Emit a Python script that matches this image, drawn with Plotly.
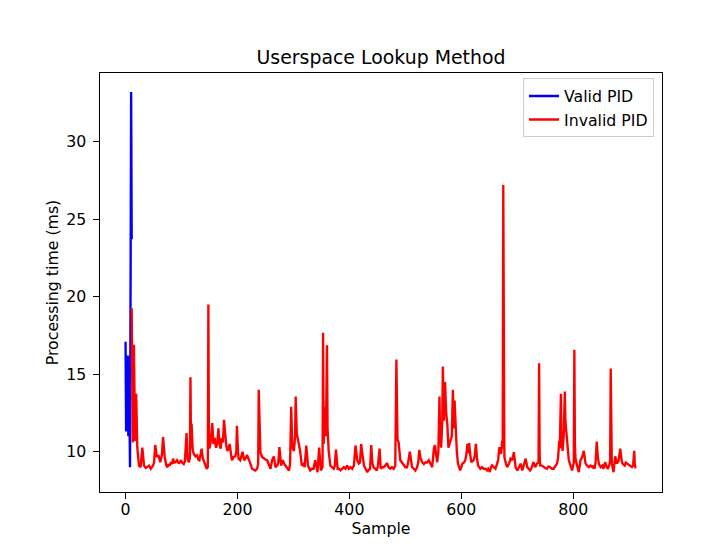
import plotly.graph_objects as go

# ---- data ----
blue_x = [0, 1, 2, 3, 4, 5, 6, 7, 8, 10, 11]
blue_y = [17.1, 11.3, 16.1, 11.4, 16.2, 11.0, 16.1, 10.7, 9.0, 33.2, 23.7]

red_x = [
    11, 13, 15, 17, 19, 21, 24, 27, 30, 33, 36, 39, 42, 45, 47,
    49, 51, 53, 56, 59, 62, 65, 67, 70, 73, 75, 77, 79, 81, 83,
    85, 87, 89, 92, 94, 96, 99, 101, 104, 106, 109, 111, 113, 115, 116,
    117, 118, 120, 122, 125, 128, 130, 132, 134, 136, 138, 141, 143, 145, 147,
    148, 149, 150, 152, 155, 157, 159, 161, 162, 164, 166, 168, 170, 172, 174,
    176, 178, 180, 182, 184, 186, 188, 190, 193, 196, 198, 199, 201, 202, 205,
    207, 209, 212, 215, 217, 220, 223, 226, 229, 232, 235, 237, 238, 240, 241,
    244, 247, 250, 253, 256, 259, 262, 265, 268, 271, 273, 275, 278, 281, 284,
    286, 289, 292, 294, 296, 298, 301, 303, 304, 306, 309, 312, 315, 318, 320,
    323, 326, 328, 330, 333, 336, 339, 341, 343, 346, 349, 352, 353, 354, 356,
    358, 360, 361, 363, 366, 369, 372, 374, 376, 379, 381, 384, 387, 390, 393,
    396, 399, 402, 405, 408, 411, 414, 417, 419, 421, 424, 426, 429, 432, 435,
    437, 439, 441, 443, 446, 449, 451, 454, 456, 459, 461, 464, 467, 470, 473,
    476, 479, 482, 484, 486, 488, 491, 494, 497, 500, 503, 505, 508, 510, 512,
    515, 518, 521, 523, 525, 527, 530, 533, 536, 539, 542, 545, 548, 551, 553,
    555, 557, 559, 561, 562, 564, 566, 567, 569, 571, 573, 575, 577, 579, 581,
    583, 585, 587, 588, 590, 592, 594, 596, 598, 600, 602, 605, 607, 609, 611,
    613, 614, 616, 618, 620, 622, 624, 626, 628, 630, 632, 634, 637, 640, 643,
    646, 648, 651, 653, 655, 658, 661, 664, 666, 668, 670, 671, 673, 674, 675,
    676, 677, 680, 682, 685, 688, 691, 694, 697, 700, 703, 706, 709, 712, 715,
    718, 721, 723, 726, 729, 732, 735, 738, 739, 740, 741, 744, 747, 750, 753,
    756, 759, 762, 765, 768, 771, 773, 775, 776, 778, 779, 781, 783, 785, 786,
    788, 790, 792, 794, 796, 798, 801, 802, 803, 804, 806, 808, 810, 813, 816,
    819, 822, 825, 828, 831, 834, 836, 838, 840, 842, 844, 846, 849, 852, 854,
    857, 860, 862, 865, 866, 867, 868, 869, 872, 875, 878, 881, 884, 887, 889,
    892, 894, 896, 899, 902, 905, 907, 909, 910, 911, 913,
]
red_y = [
    19.26, 10.6, 16.9, 10.7, 13.74, 10.26, 9.1, 9.0, 10.26, 9.1, 8.95, 9.0, 9.1, 8.9, 9.0,
    9.1, 9.3, 10.43, 9.66, 9.77, 9.32, 9.8, 10.95, 9.66, 9.1, 9.0, 9.2, 9.1, 9.32, 9.2,
    9.55, 9.3, 9.32, 9.45, 9.3, 9.27, 9.45, 9.3, 9.2, 9.35, 11.2, 9.5, 9.32, 9.6, 14.8,
    10.2, 11.8, 10.1, 9.86, 9.7, 9.77, 9.5, 9.45, 9.8, 10.2, 9.6, 9.32, 9.1, 8.9, 9.0,
    19.5, 10.4, 10.2, 10.6, 11.85, 10.5, 10.9, 10.4, 10.26, 10.6, 11.5, 10.5, 10.2, 10.9, 10.6,
    12.06, 10.9, 10.4, 10.05, 10.2, 10.5, 9.8, 9.45, 9.66, 9.7, 10.0, 11.67, 10.0, 9.55, 9.45,
    9.7, 10.0, 9.45, 9.6, 9.8, 9.55, 9.23, 8.9, 8.85, 8.79, 8.9, 9.2, 14.0, 10.3, 9.97,
    9.66, 9.55, 9.5, 9.45, 9.1, 8.9, 9.45, 9.7, 9.0, 9.1, 9.3, 10.3, 9.1, 9.45, 9.2,
    9.1, 8.9, 8.79, 9.2, 12.9, 10.26, 10.05, 11.0, 13.56, 11.2, 10.6, 10.05, 9.1, 9.2, 9.0,
    10.4, 9.1, 8.9, 8.79, 8.9, 8.9, 9.45, 9.0, 8.68, 10.26, 8.79, 9.0, 17.67, 10.5, 12.9,
    11.0, 16.86, 11.5, 10.05, 9.1, 9.0, 8.9, 9.1, 10.14, 8.9, 8.9, 8.79, 8.9, 9.0, 8.9,
    9.1, 8.9, 9.0, 8.9, 9.1, 10.4, 9.45, 9.23, 9.3, 10.5, 9.45, 9.1, 8.9, 8.68, 8.85,
    8.9, 10.43, 9.3, 9.0, 8.9, 8.79, 9.1, 10.2, 8.9, 9.0, 9.0, 9.1, 9.27, 9.0, 8.9,
    9.0, 8.9, 9.1, 15.95, 10.8, 10.6, 9.45, 9.3, 9.1, 9.0, 9.0, 9.3, 10.0, 9.3, 9.0,
    8.9, 8.79, 9.0, 9.3, 10.12, 9.6, 9.32, 9.2, 9.32, 9.3, 9.45, 9.2, 9.0, 10.2, 10.43,
    9.8, 9.32, 10.0, 13.56, 11.0, 10.26, 12.0, 15.5, 12.0, 14.5, 12.5, 11.8, 10.26, 10.5, 10.7,
    11.0, 14.0, 11.5, 13.3, 11.15, 10.0, 9.23, 9.0, 8.79, 9.0, 9.23, 9.3, 9.45, 9.8, 10.5,
    9.9, 10.55, 9.8, 9.32, 9.4, 9.45, 9.7, 10.5, 9.6, 9.1, 9.0, 8.9, 9.0, 8.9, 8.9,
    8.79, 8.9, 8.7, 9.0, 9.11, 9.0, 8.9, 9.23, 9.5, 10.3, 9.9, 9.86, 10.7, 10.2, 27.2,
    10.5, 9.66, 9.2, 9.0, 9.2, 9.55, 9.45, 9.97, 9.0, 8.79, 9.0, 9.23, 8.79, 9.1, 9.55,
    9.0, 8.9, 8.79, 9.0, 9.32, 9.0, 9.23, 9.3, 15.7, 9.8, 9.11, 9.1, 9.0, 8.95, 8.9,
    9.05, 9.0, 8.9, 8.9, 9.1, 9.23, 9.6, 10.7, 10.2, 13.73, 11.0, 10.05, 11.0, 13.88, 12.0,
    11.15, 9.86, 9.5, 9.23, 9.0, 8.79, 9.3, 16.58, 10.5, 9.6, 9.23, 9.0, 8.68, 9.45, 9.66,
    10.05, 9.23, 9.1, 9.0, 9.1, 9.0, 9.1, 8.9, 9.3, 10.65, 9.66, 9.2, 9.0, 9.1, 8.9,
    9.32, 9.0, 8.9, 9.2, 9.5, 15.37, 10.0, 9.23, 8.68, 9.7, 9.23, 9.4, 10.2, 9.32, 9.2,
    9.11, 9.3, 9.25, 9.2, 9.11, 9.0, 9.1, 10.05, 9.2, 9.0, 9.0,
]

x_ticks = [0, 200, 400, 600, 800]
y_ticks = [10, 15, 20, 25, 30]

title_text = "Userspace Lookup Method"
x_label = "Sample"
y_label = "Processing time (ms)"

# ---- figure (page body adds an 8px offset) ----
FONT = "DejaVu Sans"
OFF = 8
W, H = 722 - OFF, 544 - OFF
ML, MR, MT, MB = 99.5 - OFF, 60, 72.7 - OFF, 52
PW, PH = W - ML - MR, H - MT - MB

fig = go.Figure()
fig.add_trace(go.Scatter(x=blue_x, y=blue_y, mode="lines", name="Valid PID",
                         line=dict(color="#0000ff", width=2.36)))
fig.add_trace(go.Scatter(x=red_x, y=red_y, mode="lines", name="Invalid PID",
                         line=dict(color="#ff0000", width=2.36)))

axis_common = dict(
    showgrid=False, zeroline=False, showline=True, mirror=True,
    linecolor="black", linewidth=1.26, automargin=False,
    ticks="outside", ticklen=5.5, tickwidth=1.26, tickcolor="black",
    tickfont=dict(family=FONT, size=15.75, color="black"),
)

def px_x(p):
    return (p - OFF - ML) / PW

def px_y(p):
    return (H - MB - (p - OFF)) / PH

fig.update_layout(
    width=W, height=H,
    margin=dict(l=ML, r=MR, t=MT, b=MB, pad=0, autoexpand=False),
    paper_bgcolor="white", plot_bgcolor="white",
    font=dict(family=FONT, size=15.75, color="black"),
    title=dict(text=title_text, x=0.5, xref="paper", xanchor="center",
               y=1 - (57 - OFF) / H, yref="container", yanchor="middle",
               font=dict(family=FONT, size=18.9, color="black")),
    xaxis=dict(range=[-45.65, 958.65], tickvals=x_ticks, ticklabelstandoff=-3,
               title=dict(text=x_label, standoff=3,
                          font=dict(family=FONT, size=15.75, color="black")),
               **axis_common),
    yaxis=dict(range=[7.4, 34.43], tickvals=y_ticks, ticklabelstandoff=4,
               title=dict(text=y_label, standoff=3,
                          font=dict(family=FONT, size=15.75, color="black")),
               **axis_common),
    legend=dict(x=px_x(654), y=px_y(78), xanchor="right", yanchor="top",
                bordercolor="#cccccc", borderwidth=1,
                entrywidth=132, entrywidthmode="pixels",
                bgcolor="rgba(255,255,255,0.8)",
                font=dict(family=FONT, size=15.75, color="black")),
    showlegend=True,
)

fig.write_html("out.html")
